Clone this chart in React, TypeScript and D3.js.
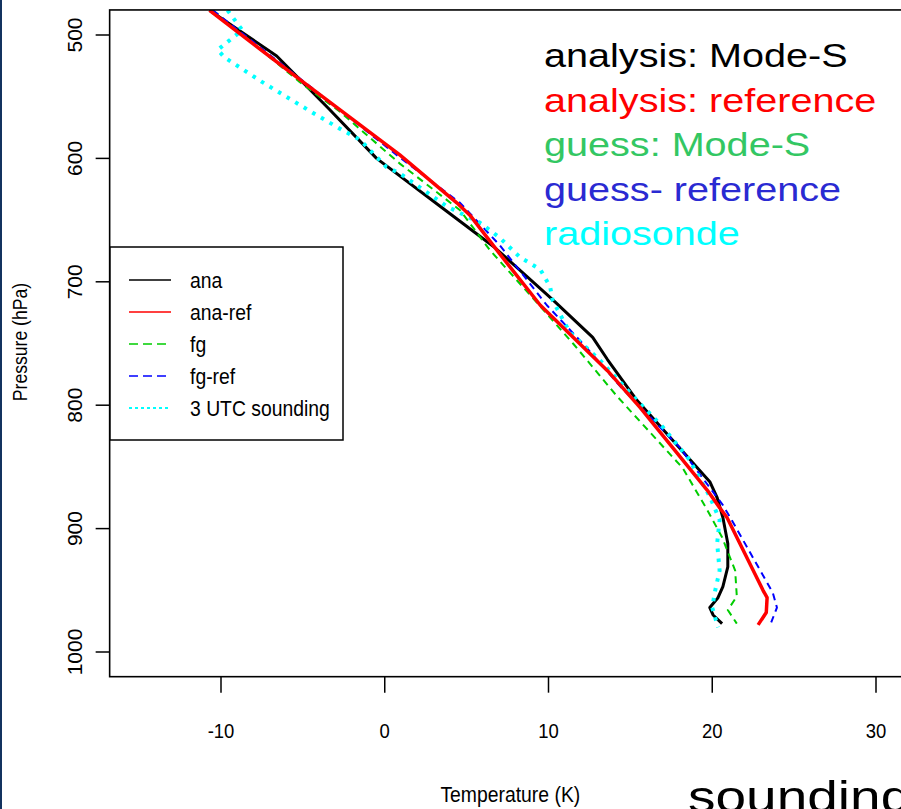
import React from "react";
import * as d3 from "d3";

// ---- data (temperature, pressure in hPa) ----
const anaP = [480, 517, 560, 600, 640, 672, 715, 745, 763, 796, 862, 875, 891, 912, 931, 947, 956, 964, 970, 977];
const anaT = [-10.7, -6.6, -3.4, -0.5, 3.5, 6.7, 10.3, 12.7, 13.6, 15.4, 19.85, 20.3, 20.65, 20.95, 20.95, 20.65, 20.35, 19.85, 20.05, 20.6];

const anaRefP = [480, 536, 597, 636, 646, 677, 719, 772, 802, 869, 883, 891, 950, 956, 968, 978];
const anaRefT = [-10.7, -5.2, 0.9, 4.4, 5.2, 7.0, 9.5, 13.6, 15.6, 19.7, 20.45, 20.9, 23.1, 23.35, 23.3, 22.8];

const fgP = [480, 538, 562, 604, 642, 674, 720, 750, 793, 851, 885, 907, 934, 955, 966, 977];
const fgT = [-10.5, -5.2, -2.75, 0.9, 4.6, 6.4, 9.5, 11.5, 14.2, 18.2, 19.7, 20.6, 21.4, 21.5, 20.95, 21.5];

const fgRefP = [480, 535, 599, 636, 653, 670, 719, 753, 785, 834, 881, 891, 952, 964, 976];
const fgRefT = [-10.5, -5.2, 0.9, 4.6, 5.8, 7.0, 9.9, 12.3, 14.4, 18.0, 20.65, 21.1, 23.7, 23.95, 23.6];

const sondeP = [480, 496, 512, 518, 538, 563, 577, 585, 607, 612, 639, 652, 664, 680, 690, 704, 715, 741, 763, 796, 818, 844, 874, 893, 912, 934, 952, 964, 980];
const sondeT = [-9.6, -8.7, -10.2, -9.8, -7.5, -4.4, -2.6, -1.5, 0.1, 0.9, 3.8, 5.8, 7.0, 8.25, 9.5, 10.1, 10.25, 11.3, 13.1, 15.4, 17.0, 18.6, 19.85, 20.45, 20.3, 20.45, 20.15, 20.0, 20.35];

const xTicks = [-10, 0, 10, 20, 30];
const yTicks = [500, 600, 700, 800, 900, 1000];

const legendLabels = ["ana", "ana-ref", "fg", "fg-ref", "3 UTC sounding"];
const annotations = ["analysis: Mode-S", "analysis: reference", "guess: Mode-S", "guess- reference", "radiosonde"];
const annotationColors = ["#000000", "#ff0000", "#33c763", "#2a2ad2", "#00ffff"];

const FONT = '"Liberation Sans", Arial, Helvetica, sans-serif';

export default function App() {
  const W = 901;
  const H = 809;
  const x = d3.scaleLinear().domain([-10, 30]).range([221, 876]);
  const y = d3.scaleLinear().domain([500, 1000]).range([35, 652]);

  const left = x(-16.8);
  const right = x(32.5);
  const top = y(479.7);
  const bottom = y(1020);

  const line = d3
    .line<[number, number]>()
    .x((d) => x(d[0]))
    .y((d) => y(d[1]));

  const zip = (t: number[], p: number[]) => t.map((v, i) => [v, p[i]] as [number, number]);

  const series = [
    { data: zip(anaT, anaP), color: "#000000", width: 3, dash: null as string | null },
    { data: zip(fgT, fgP), color: "#00cd00", width: 2, dash: "7 5" },
    { data: zip(fgRefT, fgRefP), color: "#0000ff", width: 2, dash: "7 5" },
    { data: zip(sondeT, sondeP), color: "#00ffff", width: 4, dash: "3.5 6.5" },
    { data: zip(anaRefT, anaRefP), color: "#ff0000", width: 3.5, dash: null },
  ];

  const legendStyles = [
    { color: "#000000", dash: null as string | null, width: 1.5 },
    { color: "#ff0000", dash: null, width: 1.5 },
    { color: "#00cd00", dash: "9 5", width: 1.5 },
    { color: "#0000ff", dash: "9 5", width: 1.5 },
    { color: "#00ffff", dash: "3 3", width: 2 },
  ];

  const legRows = [280, 312, 344, 376, 408];

  return (
    <div style={{ position: "absolute", left: 0, top: 0, width: W, height: H, background: "#fff" }}>
      <svg width={W} height={H} style={{ display: "block", fontFamily: FONT }}>
        <rect x={0} y={0} width={W} height={H} fill="#ffffff" />
        <defs>
          <clipPath id="plotclip">
            <rect x={left} y={top} width={right - left} height={bottom - top} />
          </clipPath>
        </defs>

        {/* series */}
        <g clipPath="url(#plotclip)">
          {series.map((s, i) => (
            <path
              key={i}
              d={line(s.data) || ""}
              fill="none"
              stroke={s.color}
              strokeWidth={s.width}
              strokeDasharray={s.dash || undefined}
              strokeLinejoin="round"
            />
          ))}
        </g>

        {/* plot box */}
        <rect x={left} y={top} width={right - left} height={bottom - top} fill="none" stroke="#000" strokeWidth={1.6} />

        {/* y axis ticks */}
        {yTicks.map((t) => (
          <g key={t}>
            <line x1={left - 14} x2={left} y1={y(t)} y2={y(t)} stroke="#000" strokeWidth={1.5} />
            <text
              transform={`translate(82,${y(t)}) rotate(-90)`}
              textAnchor="middle"
              fontSize={21}
              fill="#000"
            >
              {t}
            </text>
          </g>
        ))}

        {/* x axis ticks */}
        {xTicks.map((t) => (
          <g key={t}>
            <line x1={x(t)} x2={x(t)} y1={bottom} y2={bottom + 16} stroke="#000" strokeWidth={1.5} />
            <g transform={`translate(${x(t)},738) scale(0.88,1)`}>
              <text x={0} y={0} textAnchor="middle" fontSize={21} fill="#000">
                {t}
              </text>
            </g>
          </g>
        ))}

        {/* axis titles */}
        <g transform={`translate(${(left + 907) / 2 + 2},802) scale(0.88,1)`}>
          <text textAnchor="middle" fontSize={22} fill="#000">
            Temperature (K)
          </text>
        </g>
        <g transform={`translate(27,342) rotate(-90) scale(0.88,1)`}>
          <text textAnchor="middle" fontSize={20} fill="#000">
            Pressure (hPa)
          </text>
        </g>

        {/* legend */}
        <rect x={110} y={247} width={233} height={193} fill="#fff" stroke="#000" strokeWidth={1.5} />
        {legendLabels.map((lab, i) => (
          <g key={lab}>
            <line
              x1={129}
              x2={171}
              y1={legRows[i]}
              y2={legRows[i]}
              stroke={legendStyles[i].color}
              strokeWidth={legendStyles[i].width}
              strokeDasharray={legendStyles[i].dash || undefined}
            />
            <g transform={`translate(190,${legRows[i] + 8}) scale(0.88,1)`}>
              <text fontSize={22} fill="#000">
                {lab}
              </text>
            </g>
          </g>
        ))}

        {/* slide annotations */}
        {annotations.map((a, i) => (
          <g key={a} transform={`translate(544,${67 + i * 44.6}) scale(1.2,1)`}>
            <text fontSize={33} fill={annotationColors[i]}>
              {a}
            </text>
          </g>
        ))}

        <g transform="translate(688,812) scale(1.25,1)">
          <text fontSize={44} fill="#000">
            sounding
          </text>
        </g>

        {/* slide left border */}
        <rect x={0} y={0} width={2} height={H} fill="#13335f" />
      </svg>
    </div>
  );
}
